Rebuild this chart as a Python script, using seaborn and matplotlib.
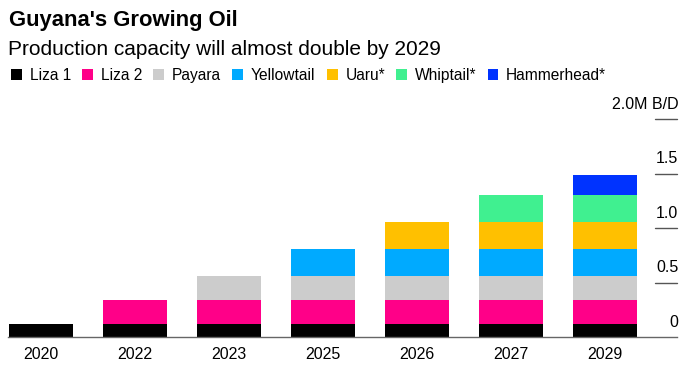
import numpy as np
import pandas as pd
import matplotlib
matplotlib.use("Agg")
import matplotlib.pyplot as plt
from matplotlib.patches import Patch
import seaborn as sns

years = ["2020", "2022", "2023", "2025", "2026", "2027", "2029"]
liza1 = [0.12, 0.12, 0.12, 0.12, 0.12, 0.12, 0.12]
liza2 = [0.0, 0.22, 0.22, 0.22, 0.22, 0.22, 0.22]
payara = [0.0, 0.0, 0.22, 0.22, 0.22, 0.22, 0.22]
yellowtail = [0.0, 0.0, 0.0, 0.25, 0.25, 0.25, 0.25]
uaru = [0.0, 0.0, 0.0, 0.0, 0.25, 0.25, 0.25]
whiptail = [0.0, 0.0, 0.0, 0.0, 0.0, 0.25, 0.25]
hammerhead = [0.0, 0.0, 0.0, 0.0, 0.0, 0.0, 0.18]

series_names = ["Liza 1", "Liza 2", "Payara", "Yellowtail", "Uaru*", "Whiptail*", "Hammerhead*"]
colors = ["#000000", "#ff0088", "#cccccc", "#00aaff", "#ffc000", "#40f090", "#0033ff"]

y_ticks = [0, 0.5, 1.0, 1.5, 2.0]
y_tick_labels = ["0", "0.5", "1.0", "1.5", "2.0M B/D"]

sns.set_style("white")
plt.rcParams["font.family"] = ["Liberation Sans", "DejaVu Sans"]
plt.rcParams["text.color"] = "black"
plt.rcParams["xtick.color"] = "black"

df = pd.DataFrame({"year": years, "Liza 1": liza1, "Liza 2": liza2, "Payara": payara,
                   "Yellowtail": yellowtail, "Uaru*": uaru, "Whiptail*": whiptail,
                   "Hammerhead*": hammerhead})
cum = df[series_names].cumsum(axis=1)
cum["year"] = df["year"]

W, H = 686, 369
fig = plt.figure(figsize=(W / 100, H / 100), dpi=100)
left_px, right_px = 8, 677
base_px, top_px = 337.3, 119.3
ax = fig.add_axes([left_px / W, (H - base_px) / H, (right_px - left_px) / W, (base_px - top_px) / H])

# stacked bars: draw cumulative totals from the top series down
for name, col in reversed(list(zip(series_names, colors))):
    sns.barplot(data=cum, x="year", y=name, order=years, color=col, width=0.69,
                linewidth=0, saturation=1, ax=ax)

ax.set_xlim(-0.351, 6.766)
ax.set_ylim(0, 2.0)
ax.set_xlabel("")
ax.set_ylabel("")
ax.set_yticks([])
for s in ["top", "right", "left"]:
    ax.spines[s].set_visible(False)
ax.spines["bottom"].set_color("#666666")
ax.spines["bottom"].set_linewidth(1.0)
ax.tick_params(axis="x", length=0, labelsize=11.5, pad=7, colors="black")

# right-side value ticks
for v, lab in zip(y_ticks, y_tick_labels):
    if v > 0:
        ax.plot([6.532, 6.766], [v, v], color="#555555", lw=1.0, clip_on=False)
    ax.text(6.78, v + 0.14, lab, ha="right", va="center", fontsize=11.5, color="black")

fig.text(9 / W, 1 - 26 / H, "Guyana's Growing Oil", fontsize=15.8, fontweight="bold",
         ha="left", va="baseline", color="black")
fig.text(8 / W, 1 - 55 / H, "Production capacity will almost double by 2029", fontsize=15,
         ha="left", va="baseline", color="black")

handles = [Patch(facecolor=c, edgecolor="none", label=n) for n, c in zip(series_names, colors)]
leg = fig.legend(handles=handles, loc="upper left", bbox_to_anchor=(11 / W, 1 - 68 / H), ncol=7,
                 frameon=False, fontsize=11.2, handlelength=0.7, handleheight=0.7,
                 handletextpad=0.5, columnspacing=0.72, borderaxespad=0, borderpad=0)
for t in leg.get_texts():
    t.set_color("black")

fig.savefig("out.png", dpi=100)
